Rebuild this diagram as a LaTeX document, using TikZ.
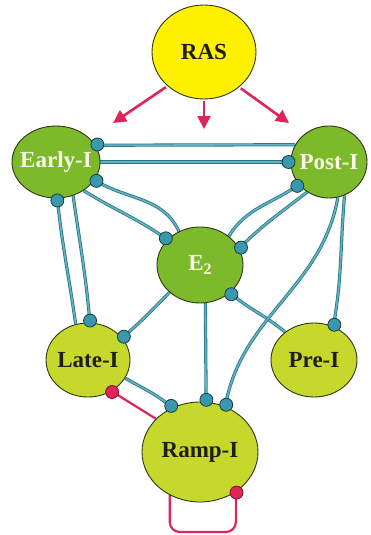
\documentclass[tikz,border=0pt]{standalone}
\usepackage{fontspec}
\setmainfont{Liberation Serif}
\usetikzlibrary{shapes.geometric,arrows.meta,backgrounds}

\definecolor{rasyellow}{RGB}{255,241,0}
\definecolor{cellgreen}{RGB}{124,186,44}
\definecolor{cellolive}{RGB}{199,216,44}
\definecolor{rimdark}{RGB}{45,55,20}
\definecolor{inkdark}{RGB}{30,30,20}
\definecolor{inkwhite}{RGB}{250,250,235}
\definecolor{tealline}{RGB}{100,178,192}
\definecolor{tealedge}{RGB}{38,118,135}
\definecolor{tealfill}{RGB}{58,152,172}
\definecolor{dotrim}{RGB}{25,60,70}
\definecolor{drivered}{RGB}{222,36,88}
\definecolor{redrim}{RGB}{130,15,45}

\begin{document}
\begin{tikzpicture}[x=1pt, y=-1pt,
        cell/.style={ellipse, draw=rimdark, line width=0.9pt, inner sep=0pt},
        celltext/.style={font=\fontsize{23}{25}\selectfont\bfseries, inner sep=0pt},
        tealcon/.style={draw=tealedge, double=tealline, double distance=1.6pt, line width=0.8pt},
        redcon/.style={draw=drivered, line width=2.2pt},
        drive/.style={draw=drivered, line width=2.6pt, shorten <=2pt, -{Triangle[length=13pt, width=13pt]}},
        tealdot/.style={fill=tealfill, draw=dotrim, line width=0.8pt},
        reddot/.style={fill=drivered, draw=redrim, line width=0.8pt}]
    \useasboundingbox (0,0) rectangle (371,535);

    % cell groups
    \node[cell, fill=rasyellow, minimum width=104pt, minimum height=94pt,
        label={[celltext, text=inkdark]center:RAS}] (ras) at (204,52) {};
    \node[cell, fill=cellgreen, minimum width=88pt, minimum height=72pt,
        label={[celltext, text=inkwhite]center:Early-I}] (early) at (56,162) {};
    \node[cell, fill=cellgreen, minimum width=76pt, minimum height=72pt,
        label={[celltext, text=inkwhite]center:Post-I}] (post) at (329,162) {};
    \node[cell, fill=cellgreen, minimum width=86pt, minimum height=76pt,
        label={[celltext, text=inkwhite]center:E\raisebox{-0.45ex}{\fontsize{16}{16}\selectfont 2}}] (e2) at (200,265) {};
    \node[cell, fill=cellolive, minimum width=84pt, minimum height=74pt,
        label={[celltext, text=inkdark]center:Late-I}] (late) at (88,360) {};
    \node[cell, fill=cellolive, minimum width=86pt, minimum height=74pt,
        label={[celltext, text=inkdark]center:Pre-I}] (pre) at (314,360) {};
    \node[cell, fill=cellolive, minimum width=116pt, minimum height=100pt,
        label={[celltext, text=inkdark]center:Ramp-I}] (ramp) at (200,452) {};

    % free ends of the RAS drive
    \coordinate (tipL) at (113,123);
    \coordinate (tipM) at (204,129);
    \coordinate (tipR) at (289,123);
    \coordinate (loopbot) at (200,532);

    \draw[drive] (ras.223) -- (tipL);
    \draw[drive] (ras.south) -- (tipM);
    \draw[drive] (ras.-45) -- (tipR);

    \begin{scope}[on background layer]
        \draw[tealcon] (post.153) -- (early.23);
        \draw[tealcon] (early.east) -- (post.180);
        \draw[tealcon] (e2.122) to[out=115, in=-32] (early.-25);
        \draw[tealcon] (early.-46) to[out=-32, in=145] (e2.142);
        \draw[tealcon] (e2.45) to[out=58, in=215] (post.217);
        \draw[tealcon] (post.234) to[out=218, in=45] (e2.23);
        \draw[tealcon] (late.109) to[out=98, in=-84] (early.-88);
        \draw[tealcon] (early.-63) to[out=-82, in=95] (late.87);
        \draw[tealcon] (e2.222) to[out=225, in=40] (late.33);
        \draw[tealcon] (e2.-82) -- (ramp.83);
        \draw[tealcon] (pre.136) to[out=140, in=-40] (e2.-43);
        \draw[tealcon] (post.-65) to[out=-95, in=80] (pre.60);
        \draw[tealcon] (post.-76) to[out=-100, in=80] (ramp.61);
        \draw[tealcon] (late.-26) to[out=-30, in=140] (ramp.122);
        \draw[redcon] (ramp.143) -- (late.-53);
        \draw[redcon, rounded corners=10pt] (ramp.-125) |- (loopbot) -| (ramp.-48);
    \end{scope}

    \foreach \n/\a in {early/23, post/180, early/-25, e2/142, post/217, e2/23,
            early/-88, late/87, late/33, ramp/83, e2/-43, pre/60, ramp/61, ramp/122}
        \draw[tealdot] ([shift={(\a:2pt)}]\n.\a) circle[radius=6.5pt];
    \foreach \n/\a in {late/-53, ramp/-48}
        \draw[reddot] ([shift={(\a:1pt)}]\n.\a) circle[radius=6.5pt];
\end{tikzpicture}
\end{document}
